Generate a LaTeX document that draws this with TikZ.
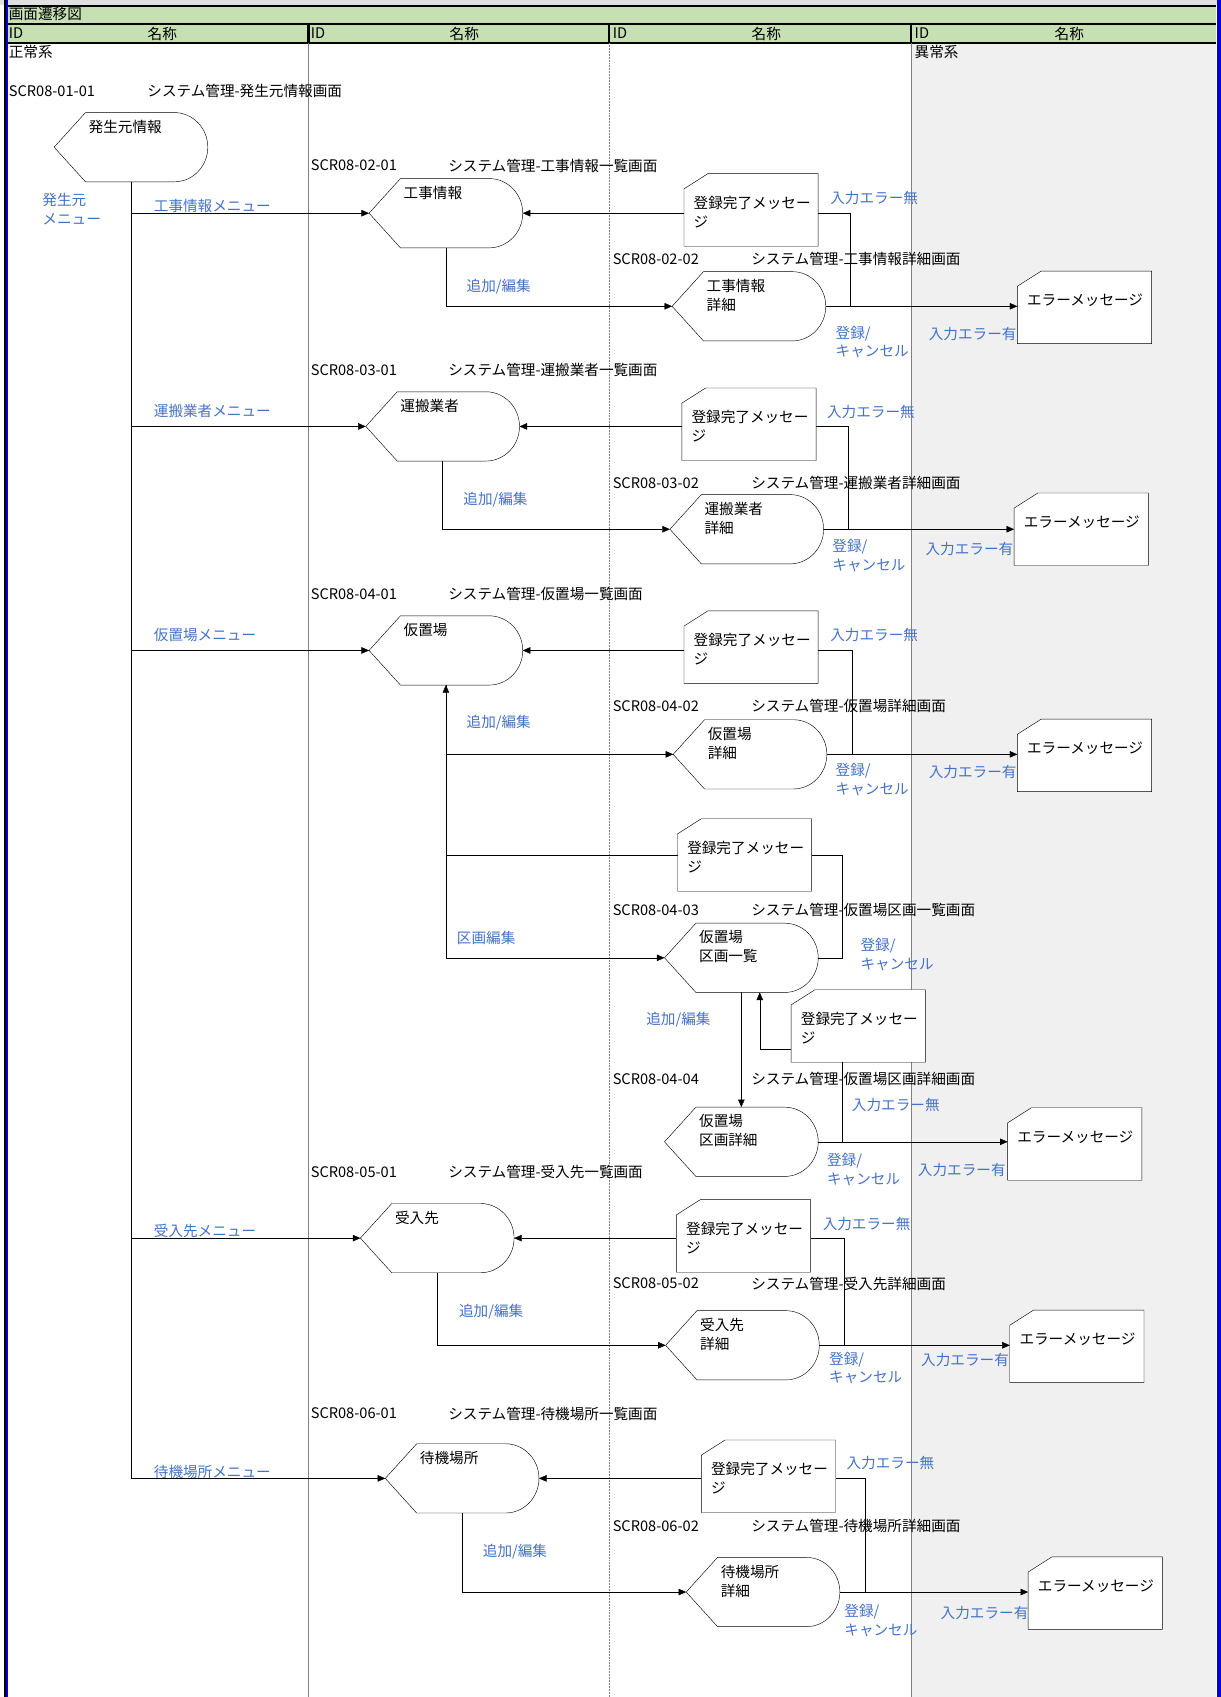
\documentclass[tikz,border=0pt]{standalone}
\usepackage{fontspec}
\setmainfont{Noto Sans CJK JP}
\usepackage{tikz}
\usetikzlibrary{arrows.meta,calc}
\definecolor{linkblue}{RGB}{68,114,196}
\definecolor{headgreen}{RGB}{198,224,180}
\definecolor{errgray}{RGB}{240,240,240}
\definecolor{frameblue}{RGB}{0,0,220}

\makeatletter
% 画面の記号: 左が尖り, 右が丸い
\pgfdeclareshape{scrview}{
  \savedanchor\northeast{%
    \pgfmathsetlength\pgf@x{\pgfkeysvalueof{/pgf/minimum width}}%
    \pgfmathsetlength\pgf@y{\pgfkeysvalueof{/pgf/minimum height}}%
    \pgf@x=.5\pgf@x \pgf@y=.5\pgf@y}
  \savedanchor\textorigin{%
    \pgfmathsetlength\pgf@xa{\pgfkeysvalueof{/pgf/minimum width}}%
    \pgfmathsetlength\pgf@ya{\pgfkeysvalueof{/pgf/minimum height}}%
    \pgfmathsetlength\pgf@xb{\pgfkeysvalueof{/pgf/inner xsep}}%
    \pgfmathsetlength\pgf@yb{\pgfkeysvalueof{/pgf/inner ysep}}%
    \pgf@x=-.5\pgf@xa \advance\pgf@x by \pgf@xb
    \pgf@y=.5\pgf@ya \advance\pgf@y by -\pgf@yb
    \advance\pgf@y by -\ht\pgfnodeparttextbox}
  \anchor{text}{\textorigin}
  \anchor{center}{\pgfpointorigin}
  \anchor{north}{\northeast\pgf@x=0pt}
  \anchor{south}{\northeast\pgf@x=0pt\pgf@y=-\pgf@y}
  \anchor{east}{\northeast\pgf@y=0pt}
  \anchor{west}{\northeast\pgf@x=-\pgf@x\pgf@y=0pt}
  \anchor{north east}{\northeast}
  \anchor{north west}{\northeast\pgf@x=-\pgf@x}
  \anchor{south east}{\northeast\pgf@y=-\pgf@y}
  \anchor{south west}{\northeast\pgf@x=-\pgf@x\pgf@y=-\pgf@y}
  \backgroundpath{%
    \northeast
    \edef\scr@w{\the\pgf@x}\edef\scr@h{\the\pgf@y}%
    \pgfmathsetmacro\scr@l{-\scr@w+29}%
    \pgfmathsetmacro\scr@r{\scr@w-31}%
    \pgfpathmoveto{\pgfpoint{-\scr@w}{0pt}}%
    \pgfpathlineto{\pgfpoint{\scr@l pt}{\scr@h}}%
    \pgfpathlineto{\pgfpoint{\scr@r pt}{\scr@h}}%
    \pgfpatharc{90}{-90}{31pt and \scr@h}%
    \pgfpathlineto{\pgfpoint{\scr@l pt}{-\scr@h}}%
    \pgfpathclose}
}
% メッセージの記号: 左上の角を落としたカード
\pgfdeclareshape{scrmsg}{
  \inheritsavedanchors[from=scrview]
  \inheritanchor[from=scrview]{text}
  \inheritanchor[from=scrview]{center}
  \inheritanchor[from=scrview]{north}
  \inheritanchor[from=scrview]{south}
  \inheritanchor[from=scrview]{east}
  \inheritanchor[from=scrview]{west}
  \inheritanchor[from=scrview]{north east}
  \inheritanchor[from=scrview]{north west}
  \inheritanchor[from=scrview]{south east}
  \inheritanchor[from=scrview]{south west}
  \backgroundpath{%
    \northeast
    \edef\scr@w{\the\pgf@x}\edef\scr@h{\the\pgf@y}%
    \pgfmathsetmacro\scr@l{-\scr@w+22}%
    \pgfmathsetmacro\scr@t{\scr@h-14}%
    \pgfpathmoveto{\pgfpoint{-\scr@w}{\scr@t pt}}%
    \pgfpathlineto{\pgfpoint{\scr@l pt}{\scr@h}}%
    \pgfpathlineto{\pgfpoint{\scr@w}{\scr@h}}%
    \pgfpathlineto{\pgfpoint{\scr@w}{-\scr@h}}%
    \pgfpathlineto{\pgfpoint{-\scr@w}{-\scr@h}}%
    \pgfpathclose}
}
\makeatother

\begin{document}
\begin{tikzpicture}[x=1pt, y=-1pt,
    every node/.style={font=\fontsize{13.5}{17.5}\selectfont},
    view/.style={shape=scrview, draw, fill=white, minimum width=142pt, minimum height=64pt,
      inner xsep=32pt, inner ysep=7pt, align=left},
    msg/.style={shape=scrmsg, draw, fill=white, minimum width=124pt, minimum height=67pt,
      inner xsep=9pt, inner ysep=21pt, align=left},
    lbl/.style={anchor=west, inner sep=0pt, align=left},
    lnk/.style={lbl, text=linkblue},
    arr/.style={-{Triangle[length=7pt,width=6pt]}}
  ]
  \useasboundingbox (0,0) rectangle (1128,1568);

  % 表の枠
  \fill[black!12] (0,0) rectangle (1128,5);
  \fill[errgray] (842,40) rectangle (1124,1568);
  \fill[headgreen] (6,5) rectangle (1124,40);
  \draw[line width=2pt] (6,5.5) -- (1124,5.5);
  \draw[line width=2pt] (6,22) -- (1124,22);
  \draw[line width=2pt] (6,39.5) -- (1124,39.5);
  \foreach \x in {285,563,842}
    \draw[line width=2pt] (\x,22) -- (\x,39.5);
  \draw[gray, line width=1pt] (285,40) -- (285,1568);
  \draw[gray, densely dotted] (563,40) -- (563,1568);
  \draw[gray, line width=1pt] (842,40) -- (842,1568);
  \draw[line width=1.5pt] (4.5,0) -- (4.5,1568);
  \draw[frameblue, line width=1.8pt] (6.3,0) -- (6.3,1568);
  \draw[frameblue, line width=3.5pt] (1126,0) -- (1126,1568);

  \node[lbl] (title) at (8,13) {画面遷移図};
  \node[lbl] (hid1) at (8,31) {ID};
  \node[lbl] (hid2) at (287,31) {ID};
  \node[lbl] (hid3) at (566,31) {ID};
  \node[lbl] (hid4) at (845,31) {ID};
  \node (hnm1) at (150,31) {名称};
  \node (hnm2) at (429,31) {名称};
  \node (hnm3) at (708,31) {名称};
  \node (hnm4) at (988,31) {名称};
  \node[lbl] (seijo) at (8,48) {正常系};
  \node[lbl] (ijo) at (845,48) {異常系};

  % 発生元情報
  \node[lbl] (id0) at (8,84) {SCR08-01-01};
  \node[lbl] (nm0) at (136,84) {システム管理-発生元情報画面};
  \node[view] (hassei) at (121,136) {発生元情報};
  \node[lnk] (hasseimenu) at (39,193) {発生元\\メニュー};

  % 工事情報
  \node[lbl] (id1) at (287,153) {SCR08-02-01};
  \node[lbl] (nm1) at (414,153) {システム管理-工事情報一覧画面};
  \node[lbl] (id1s) at (566,239) {SCR08-02-02};
  \node[lbl] (nm1s) at (694,239) {システム管理-工事情報詳細画面};
  \node[view] (koji) at (412,197) {工事情報};
  \node[view] (koji-s) at (692,283) {工事情報\\詳細};
  \node[msg] (koji-m) at (694,194) {登録完了メッセー\\ジ};
  \node[msg] (koji-e) at (1002,284) {エラーメッセージ};
  \node[lnk] (l1a) at (142,190) {工事情報メニュー};
  \node[lnk] (l1b) at (767,183) {入力エラー無};
  \node[lnk] (l1c) at (431,265) {追加/編集};
  \node[lnk] (l1d) at (772,316) {登録/\\キャンセル};
  \node[lnk] (l1e) at (858,309) {入力エラー有};

  % 運搬業者
  \node[lbl] (id2) at (287,342) {SCR08-03-01};
  \node[lbl] (nm2) at (414,342) {システム管理-運搬業者一覧画面};
  \node[lbl] (id2s) at (566,446) {SCR08-03-02};
  \node[lbl] (nm2s) at (694,446) {システム管理-運搬業者詳細画面};
  \node[view] (unpan) at (409,394) {運搬業者};
  \node[view] (unpan-s) at (690,489) {運搬業者\\詳細};
  \node[msg] (unpan-m) at (692,392) {登録完了メッセー\\ジ};
  \node[msg] (unpan-e) at (999,489) {エラーメッセージ};
  \node[lnk] (l2a) at (142,380) {運搬業者メニュー};
  \node[lnk] (l2b) at (764,381) {入力エラー無};
  \node[lnk] (l2c) at (428,462) {追加/編集};
  \node[lnk] (l2d) at (769,513) {登録/\\キャンセル};
  \node[lnk] (l2e) at (855,507) {入力エラー有};

  % 仮置場
  \node[lbl] (id3) at (287,549) {SCR08-04-01};
  \node[lbl] (nm3) at (414,549) {システム管理-仮置場一覧画面};
  \node[lbl] (id3s) at (566,652) {SCR08-04-02};
  \node[lbl] (nm3s) at (694,652) {システム管理-仮置場詳細画面};
  \node[view] (kari) at (412,601) {仮置場};
  \node[view] (kari-s) at (693,697) {仮置場\\詳細};
  \node[msg] (kari-m) at (694,598) {登録完了メッセー\\ジ};
  \node[msg] (kari-e) at (1002,698) {エラーメッセージ};
  \node[lnk] (l3a) at (142,587) {仮置場メニュー};
  \node[lnk] (l3b) at (767,587) {入力エラー無};
  \node[lnk] (l3c) at (431,668) {追加/編集};
  \node[lnk] (l3d) at (772,720) {登録/\\キャンセル};
  \node[lnk] (l3e) at (858,713) {入力エラー有};

  % 仮置場区画
  \node[lbl] (id3k) at (566,841) {SCR08-04-03};
  \node[lbl] (nm3k) at (694,841) {システム管理-仮置場区画一覧画面};
  \node[lbl] (id3ks) at (566,997) {SCR08-04-04};
  \node[lbl] (nm3ks) at (694,997) {システム管理-仮置場区画詳細画面};
  \node[msg] (kukaku-m) at (688,790) {登録完了メッセー\\ジ};
  \node[view] (kukaku) at (685,885) {仮置場\\区画一覧};
  \node[msg] (kukaku-sm) at (793,948) {登録完了メッセー\\ジ};
  \node[view] (kukaku-s) at (685,1055) {仮置場\\区画詳細};
  \node[msg] (kukaku-e) at (993,1057) {エラーメッセージ};
  \node[lnk] (l3f) at (422,867) {区画編集};
  \node[lnk] (l3g) at (795,882) {登録/\\キャンセル};
  \node[lnk] (l3h) at (597,942) {追加/編集};
  \node[lnk] (l3i) at (787,1021) {入力エラー無};
  \node[lnk] (l3j) at (764,1081) {登録/\\キャンセル};
  \node[lnk] (l3k) at (848,1081) {入力エラー有};

  % 受入先
  \node[lbl] (id4) at (287,1083) {SCR08-05-01};
  \node[lbl] (nm4) at (414,1083) {システム管理-受入先一覧画面};
  \node[lbl] (id4s) at (566,1186) {SCR08-05-02};
  \node[lbl] (nm4s) at (694,1186) {システム管理-受入先詳細画面};
  \node[view] (ukeire) at (404,1144) {受入先};
  \node[view] (ukeire-s) at (686,1243) {受入先\\詳細};
  \node[msg] (ukeire-m) at (687,1142) {登録完了メッセー\\ジ};
  \node[msg] (ukeire-e) at (995,1244) {エラーメッセージ};
  \node[lnk] (l4a) at (142,1137) {受入先メニュー};
  \node[lnk] (l4b) at (760,1131) {入力エラー無};
  \node[lnk] (l4c) at (424,1212) {追加/編集};
  \node[lnk] (l4d) at (766,1264) {登録/\\キャンセル};
  \node[lnk] (l4e) at (851,1257) {入力エラー有};

  % 待機場所
  \node[lbl] (id5) at (287,1306) {SCR08-06-01};
  \node[lbl] (nm5) at (414,1306) {システム管理-待機場所一覧画面};
  \node[lbl] (id5s) at (566,1410) {SCR08-06-02};
  \node[lbl] (nm5s) at (694,1410) {システム管理-待機場所詳細画面};
  \node[view] (taiki) at (427,1366) {待機場所};
  \node[view] (taiki-s) at (705,1471) {待機場所\\詳細};
  \node[msg] (taiki-m) at (710,1364) {登録完了メッセー\\ジ};
  \node[msg] (taiki-e) at (1012,1472) {エラーメッセージ};
  \node[lnk] (l5a) at (142,1360) {待機場所メニュー};
  \node[lnk] (l5b) at (782,1352) {入力エラー無};
  \node[lnk] (l5c) at (446,1434) {追加/編集};
  \node[lnk] (l5d) at (780,1497) {登録/\\キャンセル};
  \node[lnk] (l5e) at (869,1490) {入力エラー有};

  % 遷移
  \draw (hassei.south) -- (hassei.south |- taiki.west);
  \foreach \n in {koji,unpan,kari,ukeire,taiki} {
    \draw[arr] (hassei.south |- \n.west) -- (\n.west);
    \draw[arr] (\n.east -| \n-m.west) -- (\n.east);
    \draw (\n-s.east) -- ++(23,0) |- (\n.east -| \n-m.east);
    \draw[arr] (\n-s.east) -- (\n-s.east -| \n-e.west);
  }
  \foreach \n in {koji,unpan,ukeire,taiki}
    \draw[arr] (\n.south) |- (\n-s.west);

  % 仮置場まわり
  \draw[arr] (kukaku-m.west) -| (kari.south);
  \draw[arr] (kari.south) |- (kari-s.west);
  \draw[arr] (kari.south) |- (kukaku.west);
  \draw (kukaku-m.east) -- ++(28,0) |- (kukaku.east);
  \draw[arr] (kukaku.south) -- (kukaku-s.north);
  \draw[arr] ([yshift=-21pt]kukaku-sm.west) -| ([xshift=17pt]kukaku.south);
  \draw (kukaku-s.east) -| ([xshift=-15pt]kukaku-sm.south);
  \draw[arr] (kukaku-s.east) -- (kukaku-s.east -| kukaku-e.west);
\end{tikzpicture}
\end{document}
